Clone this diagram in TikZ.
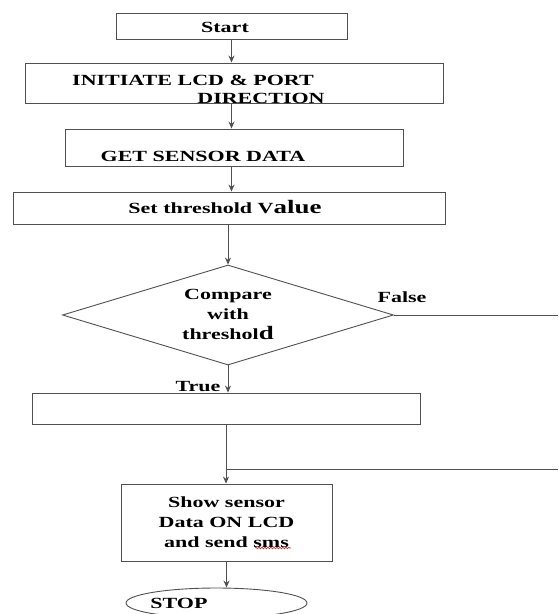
\documentclass[tikz,border=0pt]{standalone}
\usepackage{fontspec}
\setmainfont{Liberation Serif}[FakeStretch=1.42]
\usepackage{tikz}
\usetikzlibrary{arrows.meta, positioning, shapes.geometric, calc, decorations.pathmorphing}
\definecolor{traitgris}{RGB}{80,80,80}
\definecolor{soulignerouge}{RGB}{200,40,40}

\begin{document}
\begin{tikzpicture}[x=1pt, y=-1pt, line width=0.9pt,
    every node/.style={font=\fontsize{15.5}{20}\selectfont\bfseries, inner sep=0pt},
    boite/.style={rectangle, draw=traitgris},
    fleche/.style={draw=traitgris, -{Stealth[length=7pt, width=6pt]}}]
    \useasboundingbox (0,0) rectangle (558,614);

    \node[boite, minimum width=231, minimum height=26] (start) at (231.5,26) {};
    \node (tstart) at (225,27) {Start};
    \node[boite, minimum width=418, minimum height=40] (init) at (234,83) {};
    \node (tinit) at (193,80) {INITIATE LCD \& PORT};
    \node (tdir) at (261,98) {DIRECTION};
    \node[boite, minimum width=338, minimum height=37] (get) at (234,147.5) {};
    \node (tget) at (203,156) {GET SENSOR DATA};
    \node[boite, minimum width=432, minimum height=32] (set) at (229,208) {};
    \node (tset) at (225,207) {Set threshold V{\fontsize{19}{20}\selectfont alue}};
    \node[diamond, draw=traitgris, minimum width=331, minimum height=100] (cmp) at (228,315) {};
    \node[align=center] (tcmp) at (228,314) {Compare\\with\\threshol{\fontsize{19}{20}\selectfont d}};
    \node[boite, minimum width=388, minimum height=31] (act) at (226,408.5) {};
    \node[boite, minimum width=211, minimum height=77, align=center] (show) at (226.5,522.5)
        {Show sensor\\Data ON LCD\\and send sms};
    \node[ellipse, draw=traitgris, minimum width=181, minimum height=30] (stop) at (216.5,603) {};
    \node (tstop) at (179,603) {STOP};

    % Branches
    \node (tfalse) at (402,297) {False};
    \node (ttrue) at (198,387) {True};
    \coordinate (fin1) at (558,315);
    \coordinate (fin2) at (558,469);

    \draw[fleche] (start.south) -- (start.south |- init.north);
    \draw[fleche] (init.south -| start.south) -- (get.north -| start.south);
    \draw[fleche] (get.south -| start.south) -- (set.north -| start.south);
    \draw[fleche] (set.south -| cmp.north) -- (cmp.north);
    \draw[fleche] (cmp.south) -- (cmp.south |- act.north);
    \draw[traitgris] (cmp.east) -- (fin1);
    \draw[fleche] (act.south) -- (act.south |- show.north);
    \draw[traitgris] (fin2) -- (act.south |- fin2);
    \draw[fleche] (show.south) -- (show.south |- stop.north);

    % soulignement
    \draw[soulignerouge, line width=0.6pt, decorate,
        decoration={snake, segment length=3pt, amplitude=0.8pt}] (255,548) -- (291,548);
\end{tikzpicture}
\end{document}
